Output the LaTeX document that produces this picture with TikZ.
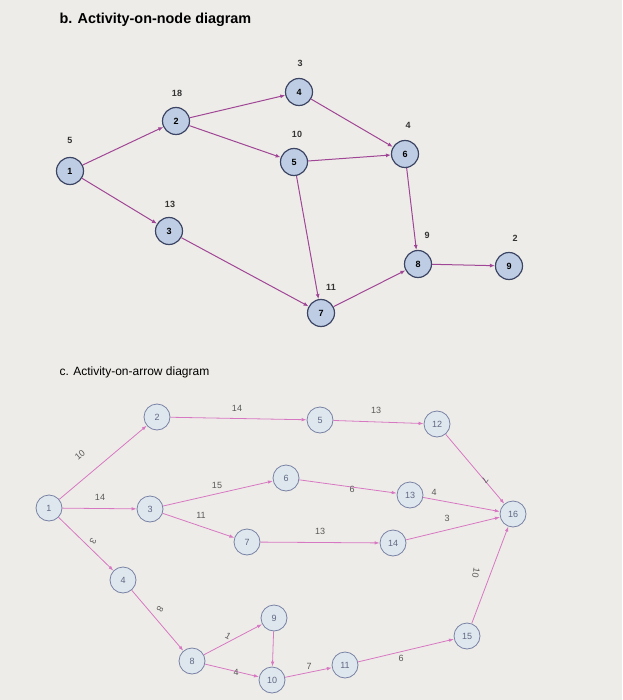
\documentclass[tikz,border=0pt]{standalone}
\usepackage{fontspec}
\setmainfont{Liberation Sans}
\usetikzlibrary{arrows.meta}
\definecolor{bg}{RGB}{238,236,232}
\definecolor{arr}{RGB}{160,70,150}
\definecolor{arrb}{RGB}{215,120,195}
\definecolor{nfill}{RGB}{190,205,228}
\definecolor{nfillb}{RGB}{222,230,238}
\definecolor{ndraw}{RGB}{60,70,100}
\definecolor{ndrawb}{RGB}{120,130,165}
\begin{document}
\begin{tikzpicture}[x=1pt,y=-1pt,
  an/.style={circle,draw=ndraw,line width=1.2pt,fill=nfill,minimum size=27pt,inner sep=0pt,font=\bfseries\small},
  bn/.style={circle,draw=ndrawb,line width=0.8pt,fill=nfillb,minimum size=26pt,inner sep=0pt,font=\small,text=ndrawb!80!black},
  ae/.style={draw=arr,line width=1pt,-{Latex[length=5pt,width=4pt]}},
  be/.style={draw=arrb,line width=0.8pt,-{Latex[length=5pt,width=3.5pt]}},
  al/.style={font=\bfseries\small,text=black!80},
  bl/.style={font=\small,text=black!65}]
\fill[bg] (0,0) rectangle (622,700);
\useasboundingbox (0,0) rectangle (622,700);
\node[anchor=west,font=\bfseries\Large] (t1) at (56,20) {b. Activity-on-node diagram};
\node[anchor=west,font=\large] (t2) at (56,372) {c. Activity-on-arrow diagram};
% top
\node[an] (a1) at (70,171) {1};
\node[an] (a2) at (176,121) {2};
\node[an] (a4) at (299,92) {4};
\node[an] (a5) at (294,162) {5};
\node[an] (a6) at (405,154) {6};
\node[an] (a3) at (169,231) {3};
\node[an] (a8) at (418,264) {8};
\node[an] (a9) at (509,266) {9};
\node[an] (a7) at (321,313) {7};
\node[al] at (70,140) {5};
\node[al] at (177,93) {18};
\node[al] at (300,63) {3};
\node[al] at (297,134) {10};
\node[al] at (408,125) {4};
\node[al] at (170,204) {13};
\node[al] at (427,235) {9};
\node[al] at (515,238) {2};
\node[al] at (331,287) {11};
\draw[ae] (a1)--(a2); \draw[ae] (a1)--(a3);
\draw[ae] (a2)--(a4); \draw[ae] (a2)--(a5);
\draw[ae] (a4)--(a6); \draw[ae] (a5)--(a6);
\draw[ae] (a5)--(a7); \draw[ae] (a3)--(a7);
\draw[ae] (a6)--(a8); \draw[ae] (a7)--(a8);
\draw[ae] (a8)--(a9);
% bottom
\node[bn] (b1) at (49,508) {1};
\node[bn] (b2) at (157,417) {2};
\node[bn] (b5) at (320,420) {5};
\node[bn] (b12) at (437,424) {12};
\node[bn] (b3) at (150,509) {3};
\node[bn] (b6) at (286,478) {6};
\node[bn] (b13) at (410,495) {13};
\node[bn] (b16) at (513,514) {16};
\node[bn] (b7) at (247,542) {7};
\node[bn] (b14) at (393,543) {14};
\node[bn] (b4) at (123,580) {4};
\node[bn] (b9) at (274,618) {9};
\node[bn] (b8) at (192,661) {8};
\node[bn] (b10) at (272,680) {10};
\node[bn] (b11) at (345,665) {11};
\node[bn] (b15) at (467,636) {15};
\draw[be] (b1)--(b2); \draw[be] (b1)--(b3); \draw[be] (b1)--(b4);
\draw[be] (b2)--(b5); \draw[be] (b5)--(b12); \draw[be] (b12)--(b16);
\draw[be] (b3)--(b6); \draw[be] (b3)--(b7); \draw[be] (b6)--(b13);
\draw[be] (b13)--(b16); \draw[be] (b7)--(b14); \draw[be] (b14)--(b16);
\draw[be] (b4)--(b8); \draw[be] (b8)--(b9); \draw[be] (b8)--(b10);
\draw[be] (b9)--(b10); \draw[be] (b10)--(b11); \draw[be] (b11)--(b15);
\draw[be] (b15)--(b16);
\node[bl,rotate=40] at (80,455) {10};
\node[bl] at (100,497) {14};
\node[bl,rotate=-120] at (93,541) {3};
\node[bl] at (237,408) {14};
\node[bl] at (376,410) {13};
\node[bl] at (217,485) {15};
\node[bl] at (201,515) {11};
\node[bl] at (352,489) {6};
\node[bl] at (320,531) {13};
\node[bl] at (434,492) {4};
\node[bl] at (447,518) {3};
\node[bl,rotate=-125] at (485,480) {7};
\node[bl,rotate=-100] at (476,573) {10};
\node[bl,rotate=-120] at (160,609) {8};
\node[bl,rotate=-30] at (228,636) {1};
\node[bl] at (236,672) {4};
\node[bl] at (309,666) {7};
\node[bl] at (401,658) {6};
\end{tikzpicture}
\end{document}
